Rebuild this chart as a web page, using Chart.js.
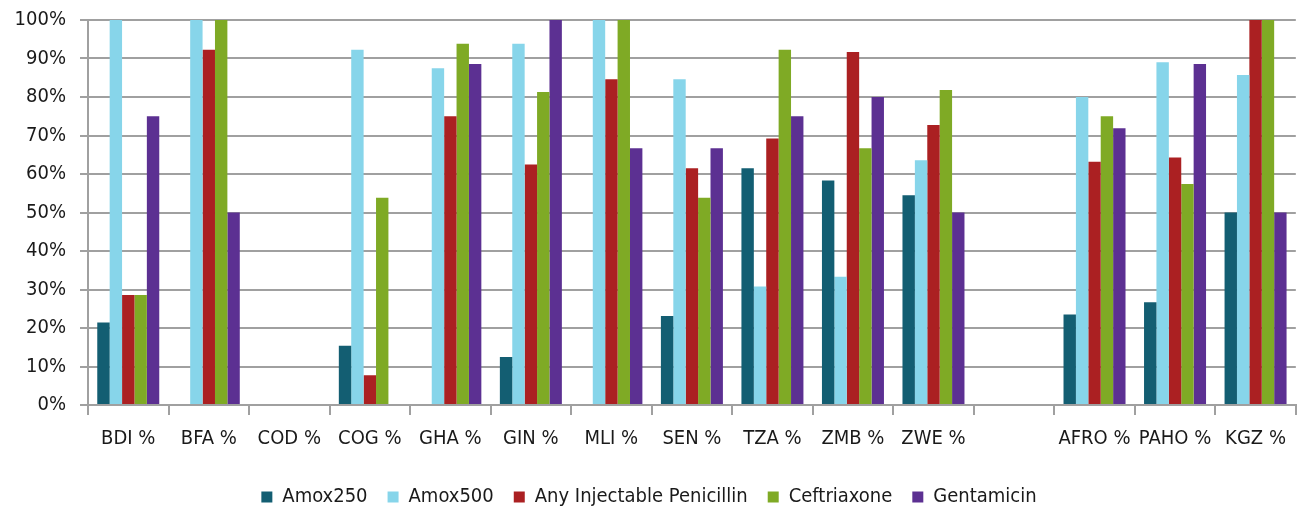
<!DOCTYPE html>
<html>
<head>
<meta charset="utf-8">
<script src="https://cdn.jsdelivr.net/npm/chart.js@4"></script>
<style>
  html, body { margin: 0; padding: 0; background: #fff; }
  #wrap { width: 1298px; height: 517px; }
</style>
</head>
<body>
<div id="wrap"><canvas id="chart"></canvas></div>
<script>
// Data (percent)
const countries = ["BDI %", "BFA %", "COD %", "COG %", "GHA %", "GIN %", "MLI %", "SEN %", "TZA %", "ZMB %", "ZWE %", "", "AFRO %", "PAHO %", "KGZ %"];
const amox250 = [21.4, 0, 0, 15.4, 0, 12.5, 0, 23.1, 61.5, 58.3, 54.5, null, 23.5, 26.7, 50];
const amox500 = [100, 100, 0, 92.3, 87.5, 93.8, 100, 84.6, 30.8, 33.3, 63.6, null, 80, 89, 85.7];
const penicillin = [28.6, 92.3, 0, 7.7, 75, 62.5, 84.6, 61.5, 69.2, 91.7, 72.7, null, 63.2, 64.3, 100];
const ceftriaxone = [28.6, 100, 0, 53.8, 93.8, 81.3, 100, 53.8, 92.3, 66.7, 81.8, null, 75, 57.4, 100];
const gentamicin = [75, 50, 0, 0, 88.6, 100, 66.7, 66.7, 75, 80, 50, null, 71.9, 88.6, 50];
const yTicks = [0, 10, 20, 30, 40, 50, 60, 70, 80, 90, 100];

const font = "'DejaVu Sans Condensed', 'DejaVu Sans', sans-serif";
const textColor = "#1a1a1a";

const ctx = document.getElementById("chart").getContext("2d");
const chart = new Chart(ctx, {
  type: "bar",
  data: {
    labels: countries,
    datasets: [
      { label: "Amox250", data: amox250, backgroundColor: "#135e72" },
      { label: "Amox500", data: amox500, backgroundColor: "#87d5ea" },
      { label: "Any Injectable Penicillin", data: penicillin, backgroundColor: "#ab2022" },
      { label: "Ceftriaxone", data: ceftriaxone, backgroundColor: "#7faa25" },
      { label: "Gentamicin", data: gentamicin, backgroundColor: "#5c3092" },
    ],
  },
  options: {
    responsive: true,
    maintainAspectRatio: false,
    animation: false,
    layout: { padding: { top: 20, right: 0, left: 0, bottom: 0 } },
    datasets: {
      bar: { categoryPercentage: 0.77, barPercentage: 1.0, borderWidth: 0 },
    },
    plugins: {
      tooltip: { enabled: false },
      legend: {
        position: "bottom",
        labels: {
          boxWidth: 11,
          boxHeight: 11,
          padding: 20,
          color: textColor,
          font: { family: font, size: 20 },
        },
      },
    },
    scales: {
      x: {
        grid: { drawOnChartArea: false, drawTicks: true, tickLength: 10, color: "#a0a0a0", lineWidth: 2 },
        border: { color: "#a0a0a0", width: 2 },
        ticks: { color: textColor, font: { family: font, size: 20 }, padding: 12, maxRotation: 0, autoSkip: false },
        afterFit: (scale) => { scale.height = 62; },
      },
      y: {
        min: 0,
        max: 100,
        afterBuildTicks: (scale) => { scale.ticks = yTicks.map((v) => ({ value: v })); },
        grid: { color: "#a0a0a0", lineWidth: 2, tickLength: 8 },
        border: { color: "#a0a0a0", width: 2 },
        ticks: {
          color: textColor,
          font: { family: font, size: 20 },
          padding: 14,
          callback: (v) => v + "%",
        },
        afterFit: (scale) => {
          scale.width = 88;
          scale.paddingTop = 0;
          scale.paddingBottom = 0;
        },
      },
    },
  },
});
</script>
</body>
</html>
